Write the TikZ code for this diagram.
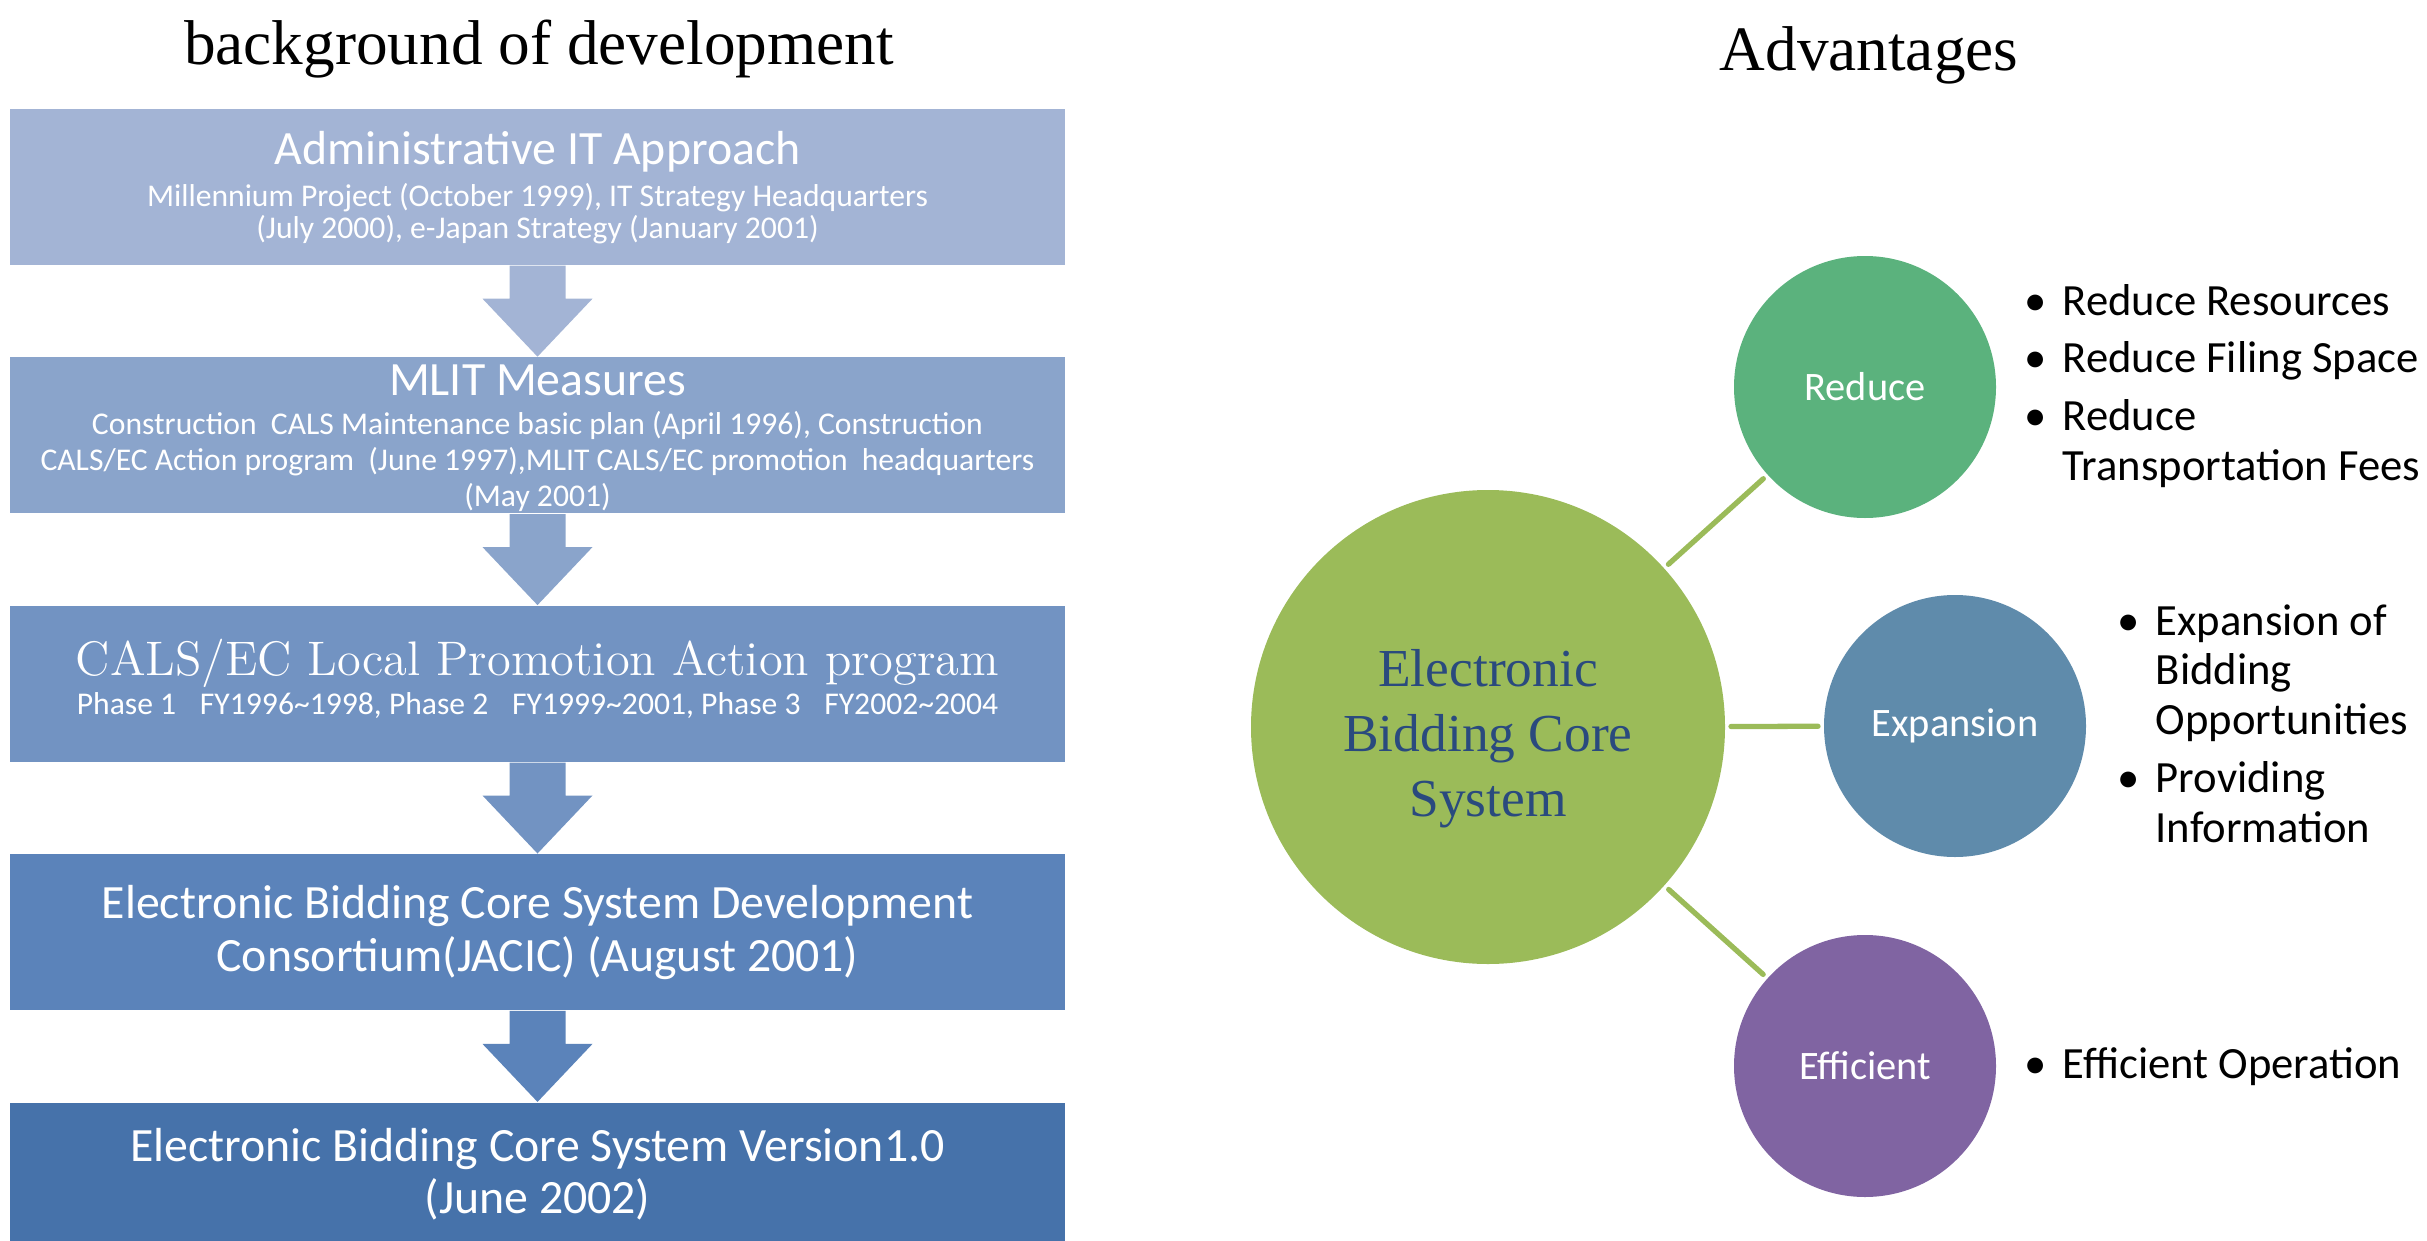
\documentclass[tikz,border=0pt]{standalone}
\usepackage{fontspec}
\newfontfamily\calibri{Carlito}
\newfontfamily\timesfont{Liberation Serif}
\usetikzlibrary{calc,positioning}

\definecolor{stage1}{HTML}{A3B4D5}
\definecolor{stage2}{HTML}{8AA4CB}
\definecolor{stage3}{HTML}{7293C2}
\definecolor{stage4}{HTML}{5B83BA}
\definecolor{stage5}{HTML}{4672AA}
\definecolor{coregreen}{HTML}{9BBB59}
\definecolor{reducegreen}{HTML}{5BB27D}
\definecolor{expandblue}{HTML}{5F8BAB}
\definecolor{efficientpurple}{HTML}{8064A2}
\definecolor{coretext}{HTML}{2A4A7E}

\newcommand{\bulletmark}{\makebox[5.4mm]{\textbullet}}

\begin{document}
\begin{tikzpicture}[
    stage/.style={fill=#1, minimum width=10.55cm, minimum height=1.56cm,
      inner sep=0pt, text=white, align=center,
      font=\calibri\fontsize{13.6}{15}\selectfont},
    head/.style={text=white, inner sep=0pt,
      font=\calibri\fontsize{13.6}{15}\selectfont},
    sub/.style={text=white, inner sep=0pt, align=center,
      font=\calibri\fontsize{9}{#1}\selectfont},
    bubble/.style={circle, fill=#1, minimum size=2.62cm, inner sep=0pt,
      text=white, font=\calibri\fontsize{11.5}{13}\selectfont},
    link/.style={draw=coregreen, line width=1.5pt, line cap=round,
      shorten <=1.5pt, shorten >=1.5pt},
    points/.style={anchor=base west, inner sep=0pt,
      font=\calibri\fontsize{12.7}{14.2}\selectfont},
    heading/.style={anchor=base, inner sep=0pt,
      font=\timesfont\fontsize{18}{22}\selectfont}
  ]
  \useasboundingbox (0,0) rectangle (24.27,12.40);

  % left column: background of development
  \node [heading] (left title) at (5.39,11.75) {background of development};

  \node [stage=stage1] (stage 1) at (5.375,10.53) {};
  \node [stage=stage2, below=0.91 of stage 1] (stage 2) {};
  \node [stage=stage3, below=0.91 of stage 2] (stage 3) {};
  \node [stage=stage4, below=0.91 of stage 3] (stage 4)
    {Electronic Bidding Core System Development\\Consortium(JACIC) (August 2001)};
  \node [stage=stage5, minimum height=1.43cm, below=0.91 of stage 4] (stage 5)
    {Electronic Bidding Core System Version1.0\\(June 2002)};

  % texts of the first three stages
  \node [head] (head 1) at ([yshift=3.5mm]stage 1.center) {Administrative IT Approach};
  \node [sub=9.1] (sub 1) at ([yshift=-2.7mm]stage 1.center)
    {Millennium Project (October 1999), IT Strategy Headquarters\\
     (July 2000), e-Japan Strategy (January 2001)};
  \node [head] (head 2) at ([yshift=5.5mm]stage 2.center) {MLIT Measures};
  \node [sub=10.2] (sub 2) at ([yshift=-2.6mm]stage 2.center)
    {Construction\ \ CALS Maintenance basic plan (April 1996), Construction\\
     CALS/EC Action program\ \ (June 1997),MLIT CALS/EC promotion\ \ headquarters\\
     (May 2001)};
  \node [head, font=\rmfamily\fontsize{13.8}{15}\selectfont] (head 3)
    at ([yshift=2.05mm]stage 3.center) {CALS/EC Local Promotion Action program};
  \node [sub=10] (sub 3) at ([yshift=-2.15mm]stage 3.center)
    {Phase 1\hspace{0.75em}FY1996\textasciitilde 1998, Phase 2\hspace{0.75em}FY1999\textasciitilde 2001,
     Phase 3\hspace{0.75em}FY2002\textasciitilde 2004};

  % down arrows between the stages
  \foreach \a/\b in {1/2,2/3,3/4,4/5}
    \fill [stage\a]
      ($(stage \a.south)+(-0.28,0)$)
      -- ++(0,-0.33)
      -- ++(-0.27,0)
      -- (stage \b.north)
      -- ++(0.55,0.58)
      -- ++(-0.27,0)
      -- ($(stage \a.south)+(0.28,0)$)
      -- cycle;

  % right column: advantages
  \node [heading] (right title) at (18.69,11.69) {Advantages};

  \node [circle, fill=coregreen, minimum size=4.74cm, inner sep=0pt]
    (core) at (14.88,5.13) {};
  \node [text=coretext, align=center, inner sep=0pt,
    font=\timesfont\fontsize{15.2}{18.5}\selectfont]
    (core text) at ([yshift=-1.2mm]core.center) {Electronic\\Bidding Core\\System};
  \node [bubble=reducegreen] (reduce) at (18.65,8.53) {Reduce};
  \node [bubble=expandblue] (expansion) at (19.55,5.14) {Expansion};
  \node [bubble=efficientpurple] (efficient) at (18.65,1.74) {Efficient};
  \foreach \b in {reduce,expansion,efficient}
    \draw [link] (core) -- (\b);

  % bullet lists
  \node [points] (reduce points) at (20.08,9.25)
    {\begin{tabular}[t]{@{}l@{}l@{}}
      \bulletmark & Reduce Resources\\[2.3pt]
      \bulletmark & Reduce Filing Space\\[2.3pt]
      \bulletmark & Reduce\\
                  & Transportation Fees
    \end{tabular}};
  \node [points] (expansion points) at (21.01,6.05)
    {\begin{tabular}[t]{@{}l@{}l@{}}
      \bulletmark & Expansion of\\
                  & Bidding\\
                  & Opportunities\\[2.3pt]
      \bulletmark & Providing\\
                  & Information
    \end{tabular}};
  \node [points] (efficient points) at (20.08,1.62)
    {\begin{tabular}[t]{@{}l@{}l@{}}
      \bulletmark & Efficient Operation
    \end{tabular}};
\end{tikzpicture}
\end{document}
